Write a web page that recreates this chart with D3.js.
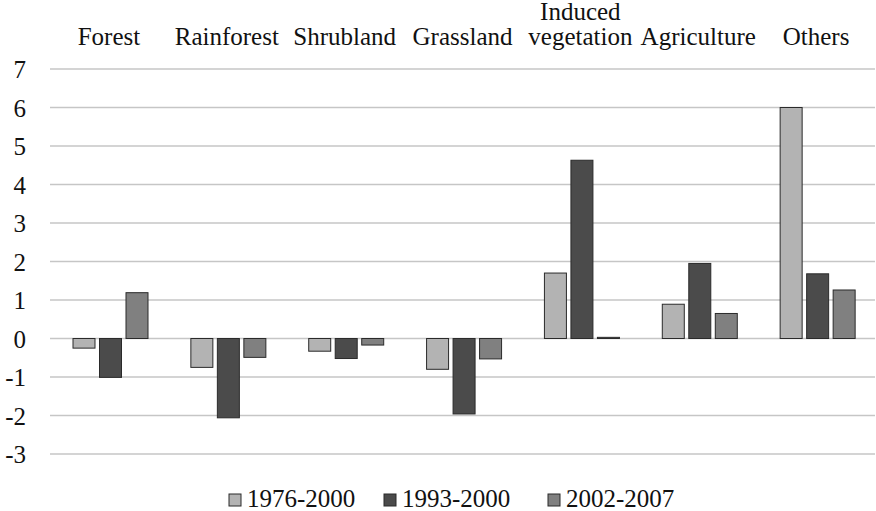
<!DOCTYPE html>
<html>
<head>
<meta charset="utf-8">
<script src="https://cdn.jsdelivr.net/npm/d3@7"></script>
<style>
  body { margin: 0; background: #fff; }
  svg text { font-family: "Liberation Serif", "Times New Roman", serif; fill: #111; }
</style>
</head>
<body>
<svg id="chart" width="876" height="511"></svg>
<script>
var categories = ['Forest', 'Rainforest', 'Shrubland', 'Grassland', 'Induced vegetation', 'Agriculture', 'Others'];
var series = ['1976-2000', '1993-2000', '2002-2007'];
var s1976 = [-0.25, -0.75, -0.33, -0.80, 1.70, 0.89, 6.00];
var s1993 = [-1.01, -2.06, -0.52, -1.96, 4.63, 1.95, 1.68];
var s2002 = [1.19, -0.49, -0.17, -0.53, 0.03, 0.65, 1.26];
var yTicks = [-3, -2, -1, 0, 1, 2, 3, 4, 5, 6, 7];
var colors = ['#b3b3b3', '#4b4b4b', '#808080'];

var values = [s1976, s1993, s2002];
var serif = '"Liberation Serif", "Times New Roman", serif';
var svg = d3.select('#chart');

var x0 = d3.scaleBand().domain(categories).range([50, 875]);
var x1 = d3.scaleBand().domain(series).range([23, 98]).paddingInner(0.17);
var y = d3.scaleLinear().domain([-3, 7]).range([454, 69]);

// grid lines
svg.append('g')
  .selectAll('line')
  .data(yTicks)
  .enter()
  .append('line')
  .attr('x1', 50)
  .attr('x2', 875)
  .attr('y1', function (d) { return y(d); })
  .attr('y2', function (d) { return y(d); })
  .attr('stroke', '#c6c6c6')
  .attr('stroke-width', 1.6);

// y axis labels
var yAxis = d3.axisLeft(y).tickValues(yTicks).tickSize(0).tickPadding(0)
  .tickFormat(function (d) { return d; });
var ya = svg.append('g').attr('transform', 'translate(26,0)').call(yAxis);
ya.attr('font-family', null).attr('font-size', null);
ya.select('.domain').remove();
ya.selectAll('text')
  .style('font-family', serif)
  .style('font-size', '25px')
  .style('fill', '#111')
  .attr('dy', '0.35em');

// bars
var groups = svg.append('g')
  .selectAll('g')
  .data(categories)
  .enter()
  .append('g')
  .attr('transform', function (d) { return 'translate(' + x0(d) + ',0)'; });

groups.selectAll('rect')
  .data(function (d, i) {
    return series.map(function (s, j) { return {s: s, v: values[j][i], j: j}; });
  })
  .enter()
  .append('rect')
  .attr('x', function (d) { return x1(d.s); })
  .attr('width', x1.bandwidth())
  .attr('y', function (d) { return y(Math.max(0, d.v)); })
  .attr('height', function (d) { return Math.abs(y(d.v) - y(0)); })
  .attr('fill', function (d) { return colors[d.j]; })
  .attr('stroke', '#2a2a2a')
  .attr('stroke-width', 1);

// category labels on top
var xAxis = svg.append('g');
categories.forEach(function (c) {
  var cx = x0(c) + x0.bandwidth() / 2;
  var t = xAxis.append('text')
    .attr('text-anchor', 'middle')
    .style('font-size', '25px');
  if (c === 'Induced vegetation') {
    t.append('tspan').attr('x', cx).attr('y', 20).text('Induced');
    t.append('tspan').attr('x', cx).attr('y', 45).text('vegetation');
  } else {
    t.attr('x', cx).attr('y', 45).text(c);
  }
});

// legend
var legendX = [229, 384, 548];
var legend = svg.append('g')
  .selectAll('g')
  .data(series)
  .enter()
  .append('g')
  .attr('transform', function (d, i) { return 'translate(' + legendX[i] + ',0)'; });
legend.append('rect')
  .attr('x', 0)
  .attr('y', 494)
  .attr('width', 12)
  .attr('height', 12)
  .attr('fill', function (d, i) { return colors[i]; })
  .attr('stroke', '#2a2a2a')
  .attr('stroke-width', 1);
legend.append('text')
  .attr('x', 18)
  .attr('y', 507)
  .style('font-size', '25px')
  .text(function (d) { return d; });
</script>
</body>
</html>
